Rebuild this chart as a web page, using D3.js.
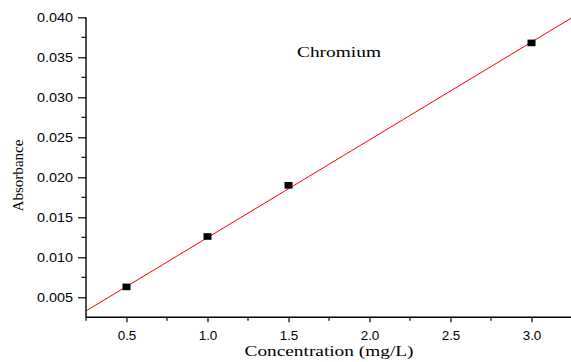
<!DOCTYPE html>
<html>
<head>
<meta charset="utf-8">
<script src="https://cdn.jsdelivr.net/npm/d3@7"></script>
<style>
html,body{margin:0;padding:0;background:#fff;}
svg{display:block;}
</style>
</head>
<body>
<svg id="chart" width="571" height="362"></svg>
<script>
// ---- data ----
const concentrations = [0.5, 1.0, 1.5, 3.0];
const absorbance = [0.0063, 0.0126, 0.0190, 0.0368];
const xTickValues = [0.5, 1.0, 1.5, 2.0, 2.5, 3.0];
const xTickLabels = ["0.5", "1.0", "1.5", "2.0", "2.5", "3.0"];
const xMinorTicks = [0.25, 0.75, 1.25, 1.75, 2.25, 2.75, 3.25];
const yTickValues = [0.005, 0.010, 0.015, 0.020, 0.025, 0.030, 0.035, 0.040];
const yTickLabels = ["0.005", "0.010", "0.015", "0.020", "0.025", "0.030", "0.035", "0.040"];
const yMinorTicks = [0.0075, 0.0125, 0.0175, 0.0225, 0.0275, 0.0325, 0.0375];
const fitSlope = 0.01222;
const fitIntercept = 0.00024;
const fitRange = [0.25, 3.25];
const chartTitle = "Chromium";
const xTitle = "Concentration (mg/L)";
const yTitle = "Absorbance";

// ---- layout ----
const svg = d3.select("#chart");
const plotLeft = 86, plotRight = 572, plotTop = 17.3, plotBottom = 317.3;
const x = d3.scaleLinear().domain([0.25, 3.25]).range([plotLeft, plotRight]);
const y = d3.scaleLinear().domain([0.0025, 0.040]).range([plotBottom, plotTop]);

function stretch(sel, factor) {
  sel.each(function () {
    const w = this.getComputedTextLength();
    d3.select(this).attr("textLength", w * factor).attr("lengthAdjust", "spacingAndGlyphs");
  });
}

// fit line
const fitData = fitRange.map(v => ({ x: v, y: fitIntercept + fitSlope * v }));
svg.append("path")
  .datum(fitData)
  .attr("d", d3.line().x(d => x(d.x)).y(d => y(d.y)))
  .attr("fill", "none")
  .attr("stroke", "#ff0000")
  .attr("stroke-width", 1);

// markers
svg.append("g").selectAll("rect")
  .data(concentrations.map((c, i) => ({ c, a: absorbance[i] })))
  .join("rect")
  .attr("x", d => x(d.c) - 4)
  .attr("y", d => y(d.a) - 3.3)
  .attr("width", 8)
  .attr("height", 6.6)
  .attr("fill", "#000");

// x axis
const xAxis = svg.append("g").attr("transform", `translate(0,${plotBottom})`);
xAxis.call(d3.axisBottom(x).tickValues(xTickValues).tickSize(5).tickPadding(9)
  .tickFormat((d, i) => xTickLabels[i]));
xAxis.select(".domain").attr("stroke-width", 1.4).attr("d", `M${plotLeft},0H${plotRight}`);
xAxis.selectAll(".tick line").attr("stroke-width", 1.2);
xAxis.selectAll(".tick text").attr("font-family", "'Liberation Sans', Arial, sans-serif")
  .attr("font-size", 12).attr("fill", "#000").call(stretch, 1.12);
xAxis.selectAll(".minor").data(xMinorTicks).join("line")
  .attr("class", "minor")
  .attr("x1", d => x(d)).attr("x2", d => x(d))
  .attr("y1", 0).attr("y2", 3.5)
  .attr("stroke", "#000").attr("stroke-width", 1.2);

// y axis
const yAxis = svg.append("g").attr("transform", `translate(${plotLeft},0)`);
yAxis.call(d3.axisLeft(y).tickValues(yTickValues).tickSize(8).tickPadding(5)
  .tickFormat((d, i) => yTickLabels[i]));
yAxis.select(".domain").attr("stroke-width", 1.4).attr("d", `M0,${plotTop}V${plotBottom}`);
yAxis.selectAll(".tick line").attr("stroke-width", 1.2);
yAxis.selectAll(".tick text").attr("font-family", "'Liberation Sans', Arial, sans-serif")
  .attr("font-size", 12).attr("fill", "#000").call(stretch, 1.2);
yAxis.selectAll(".minor").data(yMinorTicks).join("line")
  .attr("class", "minor")
  .attr("x1", -4.5).attr("x2", 0)
  .attr("y1", d => y(d)).attr("y2", d => y(d))
  .attr("stroke", "#000").attr("stroke-width", 1.2);

// titles
svg.append("text")
  .attr("x", 339).attr("y", 57.3)
  .attr("text-anchor", "middle")
  .attr("font-family", "'Liberation Serif', 'Times New Roman', serif")
  .attr("font-size", 15)
  .attr("textLength", 84).attr("lengthAdjust", "spacingAndGlyphs")
  .text(chartTitle);

svg.append("text")
  .attr("x", 329).attr("y", 355.5)
  .attr("text-anchor", "middle")
  .attr("font-family", "'Liberation Serif', 'Times New Roman', serif")
  .attr("font-size", 15)
  .attr("textLength", 169).attr("lengthAdjust", "spacingAndGlyphs")
  .text(xTitle);

svg.append("text")
  .attr("transform", "translate(23,175.5) rotate(-90)")
  .attr("text-anchor", "middle")
  .attr("font-family", "'Liberation Serif', 'Times New Roman', serif")
  .attr("font-size", 15)
  .attr("textLength", 72).attr("lengthAdjust", "spacingAndGlyphs")
  .text(yTitle);
</script>
</body>
</html>
